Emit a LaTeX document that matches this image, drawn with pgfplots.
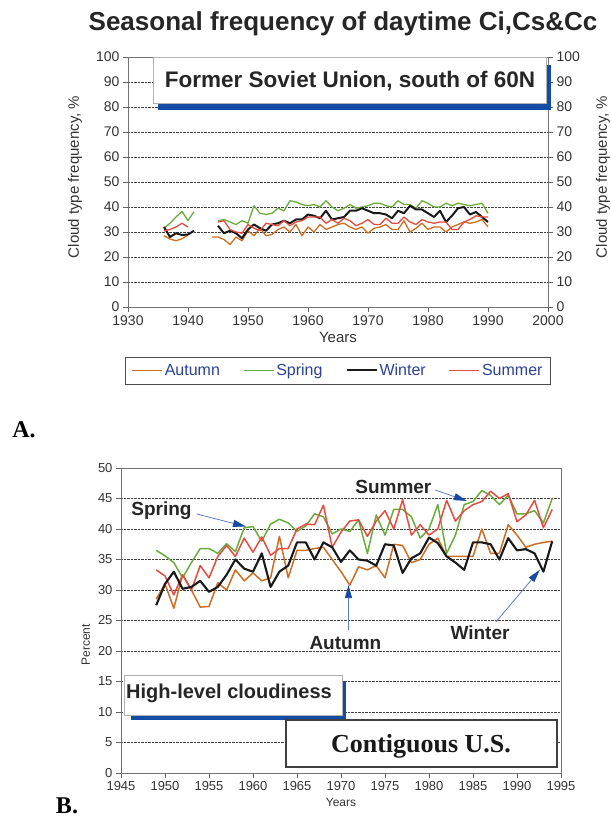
\documentclass[border=0pt]{standalone}
\usepackage{fontspec}
\setmainfont{Liberation Sans}
\newfontfamily\tms{Liberation Serif}
\usepackage{pgfplots}
\pgfplotsset{compat=1.18}
\usetikzlibrary{arrows.meta}

\definecolor{aut}{RGB}{205,110,35}
\definecolor{spr}{RGB}{105,172,60}
\definecolor{win}{RGB}{25,25,25}
\definecolor{sum}{RGB}{228,75,65}
\definecolor{legblue}{RGB}{45,65,150}
\definecolor{shadow}{RGB}{20,75,165}
\definecolor{arrline}{RGB}{95,125,195}

\pgfplotsset{
  panel/.style={
    scale only axis, anchor=south west,
    axis line style={black!55, line width=0.9pt},
    tick style={black!60, line width=0.6pt},
    tick align=outside, major tick length=5pt,
    ymajorgrids, grid style={black!75, densely dotted, line width=0.7pt},
    /pgf/number format/assume math mode=true,
    /pgf/number format/1000 sep={},
    tick label style={text=black!80},
    unbounded coords=jump,
    every axis plot/.append style={line width=1.3pt, line join=round},
  },
}

\begin{document}
\begin{tikzpicture}
\path[use as bounding box] (0,0) rectangle (610pt,824pt);

\node[font=\bfseries\fontsize{26}{26}\selectfont, text=black!85] at (343pt,800pt) {Seasonal frequency of daytime Ci,Cs\&Cc};

% ---------- panel A ----------
\begin{axis}[panel,
  at={(128pt,517pt)}, width=420pt, height=250pt,
  xmin=1930, xmax=2000, ymin=0, ymax=100,
  xtick={1930,1940,...,2000}, ytick={0,10,...,100},
  xtick pos=lower, ytick pos=left,
  tick label style={font=\fontsize{14}{14}\selectfont},
  xlabel={Years}, ylabel={Cloud type frequency, \%},
  label style={font=\fontsize{15}{15}\selectfont, text=black!80},
  xlabel style={at={(axis description cs:0.5,-0.12)}, anchor=center},
  ylabel style={at={(axis description cs:-0.126,0.52)}, anchor=center},
  legend columns=4,
  legend style={at={(axis description cs:0.5,-0.254)}, anchor=center,
    draw=black!70, line width=0.8pt, font=\fontsize{16}{16}\selectfont,
    text=legblue, inner xsep=6pt, inner ysep=5pt,
    /tikz/every even column/.append style={column sep=21pt}},
  legend cell align=left,
  legend image code/.code={\draw[#1] (0pt,0pt) -- (30pt,0pt);},
]
\addplot[aut] coordinates {(1936,28.5) (1937,27.2) (1938,26.5) (1939,27.3) (1940,28.8) (1942,nan)
 (1944,28) (1945,28) (1946,27) (1947,25) (1948,28) (1949,26.5) (1950,30.5) (1951,28.5) (1952,31.5) (1953,28.5)
 (1954,29) (1955,31) (1956,32) (1957,30) (1958,33) (1959,28.5) (1960,32) (1961,30) (1962,33) (1963,31)
 (1964,32) (1965,33) (1966,33.5) (1967,32) (1968,31) (1969,32) (1970,29.5) (1971,31.5) (1972,32) (1973,33)
 (1974,31) (1975,31) (1976,34.5) (1977,30) (1978,31.5) (1979,33.5) (1980,31) (1981,32) (1982,32) (1983,30)
 (1984,32) (1985,33) (1986,34) (1987,33.5) (1988,34) (1989,35) (1990,32)};
\addlegendentry{Autumn}
\addplot[spr] coordinates {(1936,31.5) (1937,33.5) (1938,36) (1939,38.2) (1940,34.6) (1941,38.1) (1943,nan)
 (1945,34.5) (1946,35) (1947,34) (1948,33) (1949,34.5) (1950,33.5) (1951,40.5) (1952,37.5) (1953,37) (1954,37.5)
 (1955,39.5) (1956,38.5) (1957,42.5) (1958,42) (1959,41) (1960,40.5) (1961,41) (1962,40) (1963,42.5) (1964,40)
 (1965,38.5) (1966,39.5) (1967,41) (1968,39.5) (1969,40) (1970,40.5) (1971,41.5) (1972,41.5) (1973,40.5) (1974,40)
 (1975,42.5) (1976,41) (1977,41) (1978,39.5) (1979,42.5) (1980,41.5) (1981,40) (1982,40) (1983,41.5) (1984,40.5)
 (1985,41.5) (1986,41) (1987,40.5) (1988,41) (1989,41.5) (1990,37.5)};
\addlegendentry{Spring}
\addplot[win, line width=2pt] coordinates {(1936,32) (1937,28) (1938,29.5) (1939,28.8) (1940,29) (1941,30.5) (1943,nan)
 (1945,32.5) (1946,29.5) (1947,30.5) (1948,29.5) (1949,27.5) (1950,31) (1951,33) (1952,31.5) (1953,30.5) (1954,33)
 (1955,33.5) (1956,34.5) (1957,33.5) (1958,35) (1959,35) (1960,37) (1961,36.5) (1962,35.5) (1963,38.5) (1964,35)
 (1965,35.5) (1966,36) (1967,38.5) (1968,38.5) (1969,39.5) (1970,38.5) (1971,37.5) (1972,37.5) (1973,37) (1974,35.5)
 (1975,38.5) (1976,37.5) (1977,40.5) (1978,39) (1979,39) (1980,37.5) (1981,36) (1982,38.5) (1983,34) (1984,36.5)
 (1985,39.5) (1986,40) (1987,37) (1988,38) (1989,36) (1990,34)};
\addlegendentry{Winter}
\addplot[sum] coordinates {(1936,30.5) (1937,31) (1938,32) (1939,33.5) (1940,32) (1942,nan)
 (1945,34) (1946,34.5) (1947,31) (1948,30) (1949,29.5) (1950,33) (1951,31.5) (1952,30.5) (1953,33.5) (1954,33)
 (1955,32.5) (1956,34.5) (1957,32.5) (1958,34) (1959,34.5) (1960,36) (1961,36) (1962,36) (1963,33.5) (1964,35)
 (1965,33.5) (1966,35.5) (1967,34.5) (1968,32.5) (1969,33.5) (1970,35) (1971,33) (1972,33) (1973,35.5) (1974,33.5)
 (1975,33.5) (1976,36) (1977,34) (1978,33) (1979,35) (1980,34) (1981,33.5) (1982,34) (1983,34) (1984,31)
 (1985,31) (1986,34) (1987,35) (1988,36.5) (1989,36) (1990,36)};
\addlegendentry{Summer}
\end{axis}

\begin{axis}[panel,
  at={(128pt,517pt)}, width=420pt, height=250pt,
  xmin=1930, xmax=2000, ymin=0, ymax=100,
  ymajorgrids=false,
  axis y line*=right, axis x line=none,
  ytick={0,10,...,100},
  tick label style={font=\fontsize{14}{14}\selectfont},
  ylabel={Cloud type frequency, \%},
  label style={font=\fontsize{15}{15}\selectfont, text=black!80},
  ylabel style={at={(axis description cs:1.131,0.52)}, anchor=center},
]
\end{axis}

% title box of panel A
\fill[shadow] (158pt,714pt) rectangle (551pt,721pt);
\fill[shadow] (546pt,714pt) rectangle (551pt,759pt);
\draw[fill=white, draw=black!30, line width=0.6pt] (153pt,721pt) rectangle (546pt,767pt);
\node[font=\bfseries\fontsize{22.5}{22.5}\selectfont, text=black!85] at (350pt,743pt) {Former Soviet Union, south of 60N};

\node[font=\tms\bfseries\fontsize{24}{24}\selectfont] at (24pt,394pt) {A.};

% ---------- panel B ----------
\begin{axis}[panel,
  at={(121pt,51pt)}, width=440pt, height=305pt,
  xmin=1945, xmax=1995, ymin=0, ymax=50,
  xtick={1945,1950,...,1995}, ytick={0,5,...,50},
  xtick pos=lower, ytick pos=left,
  tick label style={font=\fontsize{13}{13}\selectfont},
  xlabel={Years}, ylabel={Percent},
  label style={font=\fontsize{12}{12}\selectfont, text=black!80},
  xlabel style={at={(axis description cs:0.5,-0.095)}, anchor=center},
  ylabel style={at={(axis description cs:-0.08,0.42)}, anchor=center},
  every axis plot/.append style={line width=1.5pt},
]
\addplot[aut] coordinates {(1949,28.5) (1950,31) (1951,27) (1952,32.5) (1953,30) (1954,27.2) (1955,27.3) (1956,31.2)
 (1957,30) (1958,33.3) (1959,31.5) (1960,32.8) (1961,31.5) (1962,32) (1963,38.8) (1964,32) (1965,36.5) (1966,36.5)
 (1967,36.8) (1968,37) (1969,35) (1970,33) (1971,30.8) (1972,33.8) (1973,33.3) (1974,34) (1975,32) (1976,37.5)
 (1977,37.3) (1978,34.5) (1979,35) (1980,37.5) (1981,38.5) (1982,35.5) (1983,35.5) (1984,35.5) (1985,35.5) (1986,40)
 (1987,36) (1988,36) (1989,40.7) (1990,39) (1991,37) (1992,37.5) (1993,37.8) (1994,38)};
\addplot[spr] coordinates {(1949,36.5) (1950,35.6) (1951,34.5) (1952,32) (1953,34.5) (1954,36.8) (1955,36.8) (1956,36)
 (1957,37.6) (1958,36.3) (1959,40.2) (1960,40.4) (1961,38) (1962,40.8) (1963,41.6) (1964,41) (1965,39.6) (1966,40.5)
 (1967,42.5) (1968,42) (1969,39.2) (1970,40) (1971,39.6) (1972,41.5) (1973,36) (1974,42.3) (1975,39) (1976,43.2)
 (1977,43.2) (1978,42) (1979,38.5) (1980,40) (1981,44) (1982,36) (1983,39) (1984,44) (1985,44.5) (1986,46.3)
 (1987,45.5) (1988,44) (1989,45.5) (1990,42.5) (1991,42.5) (1992,43) (1993,41) (1994,45)};
\addplot[sum] coordinates {(1949,33.3) (1950,32.3) (1951,29.2) (1952,32.5) (1953,30) (1954,34) (1955,32) (1956,35.5)
 (1957,37.3) (1958,35.5) (1959,38.5) (1960,36.2) (1961,38.7) (1962,35.7) (1963,36.8) (1964,36.8) (1965,40) (1966,40.8)
 (1967,40.7) (1968,43.9) (1969,37) (1970,39.5) (1971,41.3) (1972,41.5) (1973,38.8) (1974,41.3) (1975,43) (1976,40)
 (1977,44.8) (1978,39) (1979,40.7) (1980,39) (1981,40) (1982,44.7) (1983,41.3) (1984,43) (1985,44) (1986,44.5)
 (1987,46.2) (1988,45) (1989,45.8) (1990,41.2) (1991,42.3) (1992,44.7) (1993,40.2) (1994,43.2)};
\addplot[win, line width=2.1pt] coordinates {(1949,27.5) (1950,31) (1951,33) (1952,30.2) (1953,30.5) (1954,31.5) (1955,29.7)
 (1956,30.5) (1957,32.5) (1958,35) (1959,33.5) (1960,33) (1961,36) (1962,30.5) (1963,33) (1964,34) (1965,37.8)
 (1966,37.8) (1967,35) (1968,37.8) (1969,37) (1970,34.6) (1971,36.5) (1972,35) (1973,34.8) (1974,34) (1975,37.5)
 (1976,37.3) (1977,32.8) (1978,35.2) (1979,36) (1980,38.6) (1981,37.7) (1982,35.5) (1983,34.5) (1984,33.3) (1985,37.8)
 (1986,37.8) (1987,37.5) (1988,35) (1989,38.5) (1990,36.5) (1991,36.7) (1992,36) (1993,33) (1994,38)};

\tikzset{ann/.style={font=\bfseries\fontsize{19}{19}\selectfont, text=black!85},
  annarr/.style={arrline, line width=0.8pt, -{Triangle[length=13pt,width=7pt,color=shadow]}}}
\node[ann] at (axis cs:1949.6,42.95) {Spring};
\draw[annarr] (axis cs:1953.6,42.46) -- (axis cs:1959.2,40.4);
\node[ann] at (axis cs:1975.95,46.9) {Summer};
\draw[annarr] (axis cs:1980.7,46.4) -- (axis cs:1984.3,44.6);
\node[ann] at (axis cs:1970.5,21.3) {Autumn};
\draw[annarr] (axis cs:1970.85,23.4) -- (axis cs:1970.85,30.8);
\node[ann] at (axis cs:1985.8,22.95) {Winter};
\draw[annarr] (axis cs:1987.6,24.75) -- (axis cs:1992.6,33.3);
\end{axis}

% boxes of panel B
\fill[shadow] (131pt,104pt) rectangle (346pt,109pt);
\fill[shadow] (342pt,104pt) rectangle (346pt,143pt);
\draw[fill=white, draw=black!30, line width=0.6pt] (124pt,109pt) rectangle (342pt,149pt);
\node[font=\bfseries\fontsize{20}{20}\selectfont, text=black!85] at (229pt,131pt) {High-level cloudiness};

\draw[fill=white, draw=black!75, line width=1.2pt] (286pt,57pt) rectangle (557pt,104pt);
\node[font=\tms\bfseries\fontsize{26}{26}\selectfont, text=black!90] at (421pt,78pt) {Contiguous U.S.};

\node[font=\tms\bfseries\fontsize{24}{24}\selectfont] at (67pt,18pt) {B.};
\end{tikzpicture}
\end{document}
